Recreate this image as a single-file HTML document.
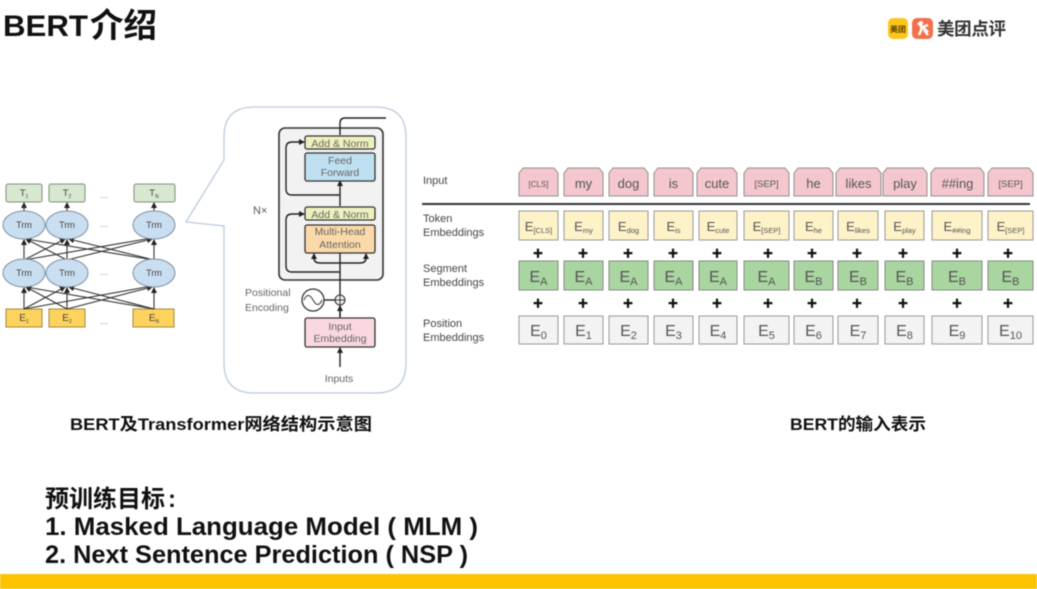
<!DOCTYPE html>
<html lang="zh"><head><meta charset="utf-8"><style>
html,body{margin:0;padding:0;background:#fff;width:1037px;height:589px;overflow:hidden}
svg{display:block;filter:blur(.5px)}
text{font-family:"Liberation Sans","Noto Sans CJK SC",sans-serif}
.b{font-weight:700;fill:#111}
.g{fill:#666;font-size:10.5px}
.c{text-anchor:middle}
.st{text-anchor:start}
.p{fill:#f4c7ce;stroke:#8f8f8f;stroke-width:1}
.y{fill:#fdf2c8;stroke:#999;stroke-width:1}
.s{fill:#a9d5a0;stroke:#888;stroke-width:1}
.w{fill:#f3f3f3;stroke:#999;stroke-width:1}
.t{fill:#555;font-size:13px;text-anchor:middle}
.e{fill:#555;text-anchor:middle}
.pl{font-size:10.5px;font-weight:700;fill:#111;text-anchor:middle}
.k{stroke:#222;stroke-width:1.4;fill:none}
</style></head><body>
<svg width="1037" height="589" viewBox="0 0 1037 589" xmlns="http://www.w3.org/2000/svg">
<defs>
<marker id="a" markerUnits="userSpaceOnUse" markerWidth="6" markerHeight="6" refX="5" refY="3" orient="auto"><path d="M0 0L6 3L0 6z" fill="#222"/></marker>
</defs>
<rect width="1037" height="589" fill="#fff"/>
<text class="b" x="3" y="36" font-size="30" textLength="85" lengthAdjust="spacingAndGlyphs">BERT</text>
<text class="b" x="90" y="37" font-size="33.5">介绍</text>

<!-- logo -->
<rect x="888" y="18" width="20" height="21" rx="5" fill="#fdc51a"/>
<text x="898" y="32" font-size="8" font-weight="700" fill="#5a4300" class="c">美团</text>
<rect x="912" y="18" width="21" height="21" rx="5" fill="#f4704d"/>
<path d="M918 23l10 9M928 25l-8 3M922 28l-3 7M924 30l4 5" stroke="#fff" stroke-width="2.4" fill="none"/>
<circle cx="921" cy="23" r="2" fill="#fff"/>
<text x="937" y="35" font-size="17.5" font-weight="700" fill="#333" textLength="69">美团点评</text>

<!-- BERT left -->
<g fill="#d7e8d0" stroke="#7f8f7a" stroke-width="1">
<rect x="6" y="184" width="36" height="18" rx="2"/><rect x="49" y="184" width="36" height="18" rx="2"/><rect x="134" y="184" width="41" height="18" rx="2"/>
</g>
<g fill="#444" font-size="9.5" text-anchor="middle">
<text x="24" y="196">T<tspan font-size="5" dy="2">1</tspan></text>
<text x="67" y="196">T<tspan font-size="5" dy="2">2</tspan></text>
<text x="154" y="196">T<tspan font-size="5" dy="2">N</tspan></text>
</g>
<g fill="#fdd35d" stroke="#a08a3c" stroke-width="1">
<rect x="6" y="309" width="36" height="18"/><rect x="49" y="309" width="36" height="18"/><rect x="133" y="309" width="41" height="18"/>
</g>
<g fill="#444" font-size="10" text-anchor="middle">
<text x="24" y="321">E<tspan font-size="5" dy="2">1</tspan></text>
<text x="67" y="321">E<tspan font-size="5" dy="2">2</tspan></text>
<text x="154" y="321">E<tspan font-size="5" dy="2">N</tspan></text>
</g>
<g stroke="#333" stroke-width="1.1" fill="none">
<path d="M24 309L24 288" marker-end="url(#a)"/><path d="M67 309L67 288" marker-end="url(#a)"/><path d="M154 309L154 288" marker-end="url(#a)"/>
<path d="M24 309L65 287" marker-end="url(#a)"/><path d="M24 309L152 286" marker-end="url(#a)"/>
<path d="M67 309L26 287" marker-end="url(#a)"/><path d="M67 309L152 287" marker-end="url(#a)"/>
<path d="M154 309L26 287" marker-end="url(#a)"/><path d="M154 309L69 287" marker-end="url(#a)"/>
<path d="M24 259L24 240" marker-end="url(#a)"/><path d="M67 259L67 240" marker-end="url(#a)"/><path d="M154 259L154 240" marker-end="url(#a)"/>
<path d="M24 260L65 239" marker-end="url(#a)"/><path d="M24 260L152 238" marker-end="url(#a)"/>
<path d="M67 260L26 239" marker-end="url(#a)"/><path d="M67 260L152 239" marker-end="url(#a)"/>
<path d="M154 260L26 239" marker-end="url(#a)"/><path d="M154 260L69 239" marker-end="url(#a)"/>
<path d="M24 211L24 203" marker-end="url(#a)"/><path d="M67 211L67 203" marker-end="url(#a)"/><path d="M154 211L154 203" marker-end="url(#a)"/>
</g>
<g fill="#c9def1" stroke="#7f8f9f" stroke-width="1">
<ellipse cx="24" cy="225" rx="21" ry="14"/><ellipse cx="67" cy="225" rx="21" ry="14"/><ellipse cx="154" cy="225" rx="21" ry="14"/>
<ellipse cx="24" cy="273" rx="21" ry="14"/><ellipse cx="67" cy="273" rx="21" ry="14"/><ellipse cx="154" cy="273" rx="21" ry="14"/>
</g>
<g fill="#444" font-size="9" text-anchor="middle">
<text x="24" y="228">Trm</text><text x="67" y="228">Trm</text><text x="154" y="228">Trm</text>
<text x="24" y="276">Trm</text><text x="67" y="276">Trm</text><text x="154" y="276">Trm</text>
</g>
<g fill="#888" font-size="9" text-anchor="middle">
<text x="104" y="198">...</text><text x="104" y="227">...</text><text x="104" y="275">...</text><text x="104" y="324">...</text>
</g>

<!-- callout -->
<path d="M254 107H376Q406 107 406 137V363Q406 393 376 393H254Q224 393 224 363V226L186 222L224 160V137Q224 107 254 107Z" fill="#fff" stroke="#bccbdb" stroke-width="1.3"/>
<rect x="279" y="128" width="104" height="152" rx="6" fill="#f2f2f2" stroke="#333" stroke-width="1.6"/>
<text x="253" y="214" font-size="11" fill="#555">N×</text>
<g class="k">
<path d="M340 135V123Q340 118 345 118H386"/>
<path d="M340 195V181" marker-end="url(#a)"/>
<path d="M340 195H292Q286 195 286 189V148Q286 142 292 142H304" marker-end="url(#a)"/>
<path d="M340 316V253"/>
<path d="M340 206V195"/>
<path d="M340 272H292Q286 272 286 266V220Q286 214 292 214H304" marker-end="url(#a)"/>
<path d="M340 263H320Q314 263 314 258V254" marker-end="url(#a)"/>
<path d="M340 263H360Q366 263 366 258V254" marker-end="url(#a)"/>
<path d="M340 318V306" marker-end="url(#a)"/>
<path d="M340 367V348" marker-end="url(#a)"/>
<path d="M324 300H335"/>
</g>
<g stroke="#333" stroke-width="1.3">
<rect x="305" y="136" width="70" height="13" rx="2" fill="#eef1bd"/>
<rect x="305" y="153" width="70" height="28" rx="2" fill="#bfe0f1"/>
<rect x="305" y="207" width="70" height="13" rx="2" fill="#eef1bd"/>
<rect x="305" y="225" width="70" height="28" rx="2" fill="#fbd9a8"/>
<rect x="305" y="318" width="70" height="29" rx="2" fill="#fad8e0"/>
</g>
<text class="g c" x="340" y="147">Add &amp; Norm</text>
<text class="g c" x="340" y="164">Feed</text>
<text class="g c" x="340" y="176">Forward</text>
<text class="g c" x="340" y="218">Add &amp; Norm</text>
<text class="g c" x="340" y="235">Multi-Head</text>
<text class="g c" x="340" y="248">Attention</text>
<text class="g c" x="340" y="330">Input</text>
<text class="g c" x="340" y="342">Embedding</text>
<text class="g c" x="339" y="382">Inputs</text>
<text class="g st" x="245" y="296">Positional</text>
<text class="g st" x="245" y="311">Encoding</text>
<circle cx="313" cy="300" r="11" fill="#fff" stroke="#333" stroke-width="1.3"/>
<path d="M304 300Q308 291 313 300T322 300" fill="none" stroke="#333" stroke-width="1"/>
<circle cx="340" cy="300" r="5" fill="#f6f6f6" stroke="#333" stroke-width="1.1"/>
<path d="M335 300H345M340 295V305" stroke="#333" stroke-width="1"/>

<!-- input table labels -->
<g fill="#444" font-size="11">
<text x="423" y="184">Input</text>
<text x="423" y="222">Token</text><text x="423" y="236">Embeddings</text>
<text x="423" y="272">Segment</text><text x="423" y="286">Embeddings</text>
<text x="423" y="327">Position</text><text x="423" y="341">Embeddings</text>
</g>
<rect x="422" y="203" width="608" height="2" fill="#333"/>

<!-- pink -->
<path class="p" d="M519 173l4-5h31l4 5v23h-39z"/>
<path class="p" d="M564 173l4-5h31l4 5v23h-39z"/>
<path class="p" d="M609 173l4-5h31l4 5v23h-39z"/>
<path class="p" d="M654 173l4-5h31l4 5v23h-39z"/>
<path class="p" d="M697 173l4-5h32l4 5v23h-40z"/>
<path class="p" d="M744 173l4-5h37l4 5v23h-45z"/>
<path class="p" d="M794 173l4-5h31l4 5v23h-39z"/>
<path class="p" d="M836 173l4-5h37l4 5v23h-45z"/>
<path class="p" d="M883 173l4-5h36l4 5v23h-44z"/>
<path class="p" d="M931 173l4-5h45l4 5v23h-53z"/>
<path class="p" d="M988 173l4-5h37l4 5v23h-45z"/>
<text class="t" x="538.5" y="187" style="font-size:8px">[CLS]</text>
<text class="t" x="583.5" y="188">my</text>
<text class="t" x="628.5" y="188">dog</text>
<text class="t" x="673.5" y="188">is</text>
<text class="t" x="717" y="188">cute</text>
<text class="t" x="766.5" y="187" style="font-size:9.5px">[SEP]</text>
<text class="t" x="813.5" y="188">he</text>
<text class="t" x="858.5" y="188">likes</text>
<text class="t" x="905" y="188">play</text>
<text class="t" x="957.5" y="188">##ing</text>
<text class="t" x="1010.5" y="187" style="font-size:9.5px">[SEP]</text>

<!-- token -->
<rect class="y" x="519" y="211" width="39" height="29"/><rect class="y" x="564" y="211" width="39" height="29"/>
<rect class="y" x="609" y="211" width="39" height="29"/><rect class="y" x="654" y="211" width="39" height="29"/>
<rect class="y" x="699" y="211" width="38" height="29"/><rect class="y" x="744" y="211" width="45" height="29"/>
<rect class="y" x="794" y="211" width="39" height="29"/><rect class="y" x="838" y="211" width="40" height="29"/>
<rect class="y" x="885" y="211" width="39" height="29"/><rect class="y" x="932" y="211" width="50" height="29"/>
<rect class="y" x="988" y="211" width="45" height="29"/>
<g font-size="13">
<text class="e" x="538.5" y="231">E<tspan font-size="7.5" dy="2">[CLS]</tspan></text>
<text class="e" x="583.5" y="231">E<tspan font-size="7.5" dy="2">my</tspan></text>
<text class="e" x="628.5" y="231">E<tspan font-size="7.5" dy="2">dog</tspan></text>
<text class="e" x="673.5" y="231">E<tspan font-size="7.5" dy="2">is</tspan></text>
<text class="e" x="718" y="231">E<tspan font-size="7.5" dy="2">cute</tspan></text>
<text class="e" x="766.5" y="231">E<tspan font-size="7.5" dy="2">[SEP]</tspan></text>
<text class="e" x="813.5" y="231">E<tspan font-size="7.5" dy="2">he</tspan></text>
<text class="e" x="858" y="231">E<tspan font-size="7.5" dy="2">likes</tspan></text>
<text class="e" x="904.5" y="231">E<tspan font-size="7.5" dy="2">play</tspan></text>
<text class="e" x="957" y="231">E<tspan font-size="7.5" dy="2">##ing</tspan></text>
<text class="e" x="1010.5" y="231">E<tspan font-size="7.5" dy="2">[SEP]</tspan></text>
</g>

<!-- plus rows -->
<g>
<text class="pl" x="538" y="257">✚</text><text class="pl" x="583" y="257">✚</text><text class="pl" x="628" y="257">✚</text><text class="pl" x="673" y="257">✚</text><text class="pl" x="717" y="257">✚</text><text class="pl" x="768" y="257">✚</text><text class="pl" x="812" y="257">✚</text><text class="pl" x="857" y="257">✚</text><text class="pl" x="903" y="257">✚</text><text class="pl" x="957" y="257">✚</text><text class="pl" x="1008" y="257">✚</text>
<text class="pl" x="538" y="307">✚</text><text class="pl" x="583" y="307">✚</text><text class="pl" x="628" y="307">✚</text><text class="pl" x="673" y="307">✚</text><text class="pl" x="717" y="307">✚</text><text class="pl" x="768" y="307">✚</text><text class="pl" x="812" y="307">✚</text><text class="pl" x="857" y="307">✚</text><text class="pl" x="903" y="307">✚</text><text class="pl" x="957" y="307">✚</text><text class="pl" x="1008" y="307">✚</text>
</g>

<!-- segment -->
<rect class="s" x="519" y="261" width="39" height="29"/><rect class="s" x="564" y="261" width="39" height="29"/>
<rect class="s" x="609" y="261" width="39" height="29"/><rect class="s" x="654" y="261" width="39" height="29"/>
<rect class="s" x="699" y="261" width="38" height="29"/><rect class="s" x="744" y="261" width="45" height="29"/>
<rect class="s" x="794" y="261" width="39" height="29"/><rect class="s" x="838" y="261" width="40" height="29"/>
<rect class="s" x="885" y="261" width="39" height="29"/><rect class="s" x="932" y="261" width="50" height="29"/>
<rect class="s" x="988" y="261" width="45" height="29"/>
<g font-size="16">
<text class="e" x="538.5" y="282">E<tspan font-size="11" dy="3">A</tspan></text>
<text class="e" x="583.5" y="282">E<tspan font-size="11" dy="3">A</tspan></text>
<text class="e" x="628.5" y="282">E<tspan font-size="11" dy="3">A</tspan></text>
<text class="e" x="673.5" y="282">E<tspan font-size="11" dy="3">A</tspan></text>
<text class="e" x="718" y="282">E<tspan font-size="11" dy="3">A</tspan></text>
<text class="e" x="766.5" y="282">E<tspan font-size="11" dy="3">A</tspan></text>
<text class="e" x="813.5" y="282">E<tspan font-size="11" dy="3">B</tspan></text>
<text class="e" x="858" y="282">E<tspan font-size="11" dy="3">B</tspan></text>
<text class="e" x="904.5" y="282">E<tspan font-size="11" dy="3">B</tspan></text>
<text class="e" x="957" y="282">E<tspan font-size="11" dy="3">B</tspan></text>
<text class="e" x="1010.5" y="282">E<tspan font-size="11" dy="3">B</tspan></text>
</g>

<!-- position -->
<rect class="w" x="519" y="316" width="39" height="28"/><rect class="w" x="564" y="316" width="39" height="28"/>
<rect class="w" x="609" y="316" width="39" height="28"/><rect class="w" x="654" y="316" width="39" height="28"/>
<rect class="w" x="699" y="316" width="38" height="28"/><rect class="w" x="744" y="316" width="45" height="28"/>
<rect class="w" x="794" y="316" width="39" height="28"/><rect class="w" x="838" y="316" width="40" height="28"/>
<rect class="w" x="885" y="316" width="39" height="28"/><rect class="w" x="932" y="316" width="50" height="28"/>
<rect class="w" x="988" y="316" width="45" height="28"/>
<g font-size="16">
<text class="e" x="538.5" y="336">E<tspan font-size="11" dy="3">0</tspan></text>
<text class="e" x="583.5" y="336">E<tspan font-size="11" dy="3">1</tspan></text>
<text class="e" x="628.5" y="336">E<tspan font-size="11" dy="3">2</tspan></text>
<text class="e" x="673.5" y="336">E<tspan font-size="11" dy="3">3</tspan></text>
<text class="e" x="718" y="336">E<tspan font-size="11" dy="3">4</tspan></text>
<text class="e" x="766.5" y="336">E<tspan font-size="11" dy="3">5</tspan></text>
<text class="e" x="813.5" y="336">E<tspan font-size="11" dy="3">6</tspan></text>
<text class="e" x="858" y="336">E<tspan font-size="11" dy="3">7</tspan></text>
<text class="e" x="904.5" y="336">E<tspan font-size="11" dy="3">8</tspan></text>
<text class="e" x="957" y="336">E<tspan font-size="11" dy="3">9</tspan></text>
<text class="e" x="1010.5" y="336">E<tspan font-size="11" dy="3">10</tspan></text>
</g>

<!-- captions -->
<text class="b" x="70" y="430" font-size="17" textLength="302" lengthAdjust="spacingAndGlyphs">BERT及Transformer网络结构示意图</text>
<text class="b" x="790" y="430" font-size="17" textLength="136" lengthAdjust="spacingAndGlyphs">BERT的输入表示</text>

<!-- bottom text -->
<text class="b" x="45" y="507" font-size="24">预训练目标</text>
<text class="b" x="168" y="507" font-size="24">:</text>
<text class="b" x="45" y="535" font-size="25" textLength="433" lengthAdjust="spacingAndGlyphs">1. Masked Language Model ( MLM )</text>
<text class="b" x="45" y="563" font-size="25" textLength="423" lengthAdjust="spacingAndGlyphs">2. Next Sentence Prediction ( NSP )</text>

<rect x="0" y="574" width="1037" height="15" fill="#fec300"/>
</svg>
</body></html>
